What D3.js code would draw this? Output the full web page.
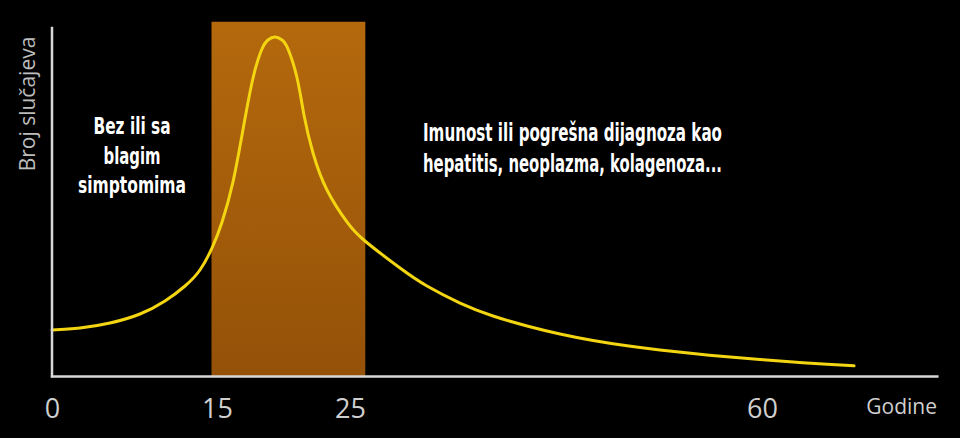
<!DOCTYPE html>
<html>
<head>
<meta charset="utf-8">
<script src="https://cdn.jsdelivr.net/npm/d3@7/dist/d3.min.js"></script>
<style>
  html, body { margin: 0; padding: 0; background: #000; }
  svg { display: block; }
</style>
</head>
<body>
<svg id="chart" width="960" height="438"></svg>
<script>
// ---- data ----
const ages   = [0, 2.55, 5.27, 8.0, 10.27, 12.09, 13.45, 14.55, 15.38, 16.2, 16.95, 17.71, 18.38, 18.83, 19.36, 19.89, 20.34, 21.02, 21.54, 22.22, 23.27, 24.77, 26.27, 29.25, 31.54, 34.35, 37.15, 40.04, 42.84, 45.65, 48.53, 51.33, 54.14, 57.03, 59.83, 62.64, 65.53, 67.82];
const cases  = [13.57, 14.16, 15.63, 18.29, 22.12, 26.55, 31.27, 37.76, 45.43, 57.23, 72.57, 87.91, 96.46, 99.12, 100, 99.12, 96.46, 87.91, 76.99, 65.78, 54.87, 45.43, 39.82, 31.86, 26.55, 21.53, 17.7, 14.75, 12.39, 10.47, 8.91, 7.67, 6.61, 5.66, 4.84, 4.13, 3.48, 3.0];
const tickAges   = [0, 15, 25, 60];
const tickLabels = ["0", "15", "25", "60"];
const peakBand   = [14.5, 26.3];   // highlighted age range
const bandTop    = 104.5;
const axisMaxAge = 75;
const axisMaxY   = 103;
const xTitle = "Godine";
const yTitle = "Broj slučajeva";
const noteLeft  = ["Bez ili sa", "blagim", "simptomima"];
const noteRight = ["Imunost ili pogrešna dijagnoza kao", "hepatitis, neoplazma, kolagenoza..."];

// ---- scales ----
const x = d3.scaleLinear().domain([0, 15, 25, 60]).range([52, 217, 350, 762]);
const y = d3.scaleLinear().domain([0, 100]).range([376, 37]);

const svg = d3.select("#chart");
svg.append("rect").attr("width", 960).attr("height", 438).attr("fill", "#000");

const defs = svg.append("defs");
const grad = defs.append("linearGradient").attr("id", "bandGrad")
  .attr("x1", 0).attr("y1", 0).attr("x2", 0).attr("y2", 1);
grad.append("stop").attr("offset", "0%").attr("stop-color", "#b4690d");
grad.append("stop").attr("offset", "100%").attr("stop-color", "#945108");

// band
svg.append("rect")
  .attr("x", x(peakBand[0]))
  .attr("width", x(peakBand[1]) - x(peakBand[0]))
  .attr("y", y(bandTop))
  .attr("height", y(0) - y(bandTop))
  .attr("fill", "url(#bandGrad)");

// curve
const pts = ages.map((a, i) => [a, cases[i]]);
const line = d3.line().x(d => x(d[0])).y(d => y(d[1])).curve(d3.curveNatural);
svg.append("path").datum(pts)
  .attr("d", line)
  .attr("fill", "none")
  .attr("stroke", "#f4d511")
  .attr("stroke-width", 3)
  .attr("stroke-linecap", "round");

// axes lines
svg.append("line")
  .attr("x1", x(0)).attr("x2", x(0))
  .attr("y1", y(axisMaxY)).attr("y2", y(0) + 1.5)
  .attr("stroke", "#d8d8d8").attr("stroke-width", 2.5);
svg.append("line")
  .attr("x1", x(0) - 1.2).attr("x2", x(axisMaxAge))
  .attr("y1", y(0) + 0.5).attr("y2", y(0) + 0.5)
  .attr("stroke", "#d8d8d8").attr("stroke-width", 2.5);

// tick labels via axis
const xAxis = d3.axisBottom(x).tickValues(tickAges)
  .tickFormat((d, i) => tickLabels[i]).tickSize(0).tickPadding(23);
const gx = svg.append("g").attr("transform", `translate(0,${y(0)})`).call(xAxis);
gx.select(".domain").remove();
gx.selectAll("text")
  .attr("font-family", "'Open Sans', 'Noto Sans', sans-serif")
  .attr("font-size", 27)
  .attr("fill", "#cfcfcf");

// axis titles
svg.append("text")
  .attr("x", 937).attr("y", 414)
  .attr("text-anchor", "end")
  .attr("font-family", "'Open Sans', 'Noto Sans', sans-serif")
  .attr("font-size", 21)
  .attr("fill", "#cfcfcf")
  .text(xTitle);

svg.append("text")
  .attr("transform", "translate(35,104) rotate(-90)")
  .attr("text-anchor", "middle")
  .attr("font-family", "'Open Sans', 'Noto Sans', sans-serif")
  .attr("font-size", 21)
  .attr("fill", "#bdbdbd")
  .text(yTitle);

// annotations
const condensed = "'Liberation Sans Narrow', 'DejaVu Sans Condensed', 'Roboto', sans-serif";
const leftWidths = [77, 57, 108];
noteLeft.forEach((t, i) => {
  svg.append("text")
    .attr("x", 132).attr("y", 134 + i * 29.5)
    .attr("text-anchor", "middle")
    .attr("font-family", condensed)
    .attr("font-weight", "bold")
    .attr("font-size", 23)
    .attr("fill", "#ffffff")
    .attr("textLength", leftWidths[i])
    .attr("lengthAdjust", "spacingAndGlyphs")
    .text(t);
});
const rightWidths = [299, 299];
noteRight.forEach((t, i) => {
  svg.append("text")
    .attr("x", 423).attr("y", 141 + i * 31)
    .attr("font-family", condensed)
    .attr("font-weight", "bold")
    .attr("font-size", 24)
    .attr("fill", "#ffffff")
    .attr("textLength", rightWidths[i])
    .attr("lengthAdjust", "spacingAndGlyphs")
    .text(t);
});
</script>
</body>
</html>
